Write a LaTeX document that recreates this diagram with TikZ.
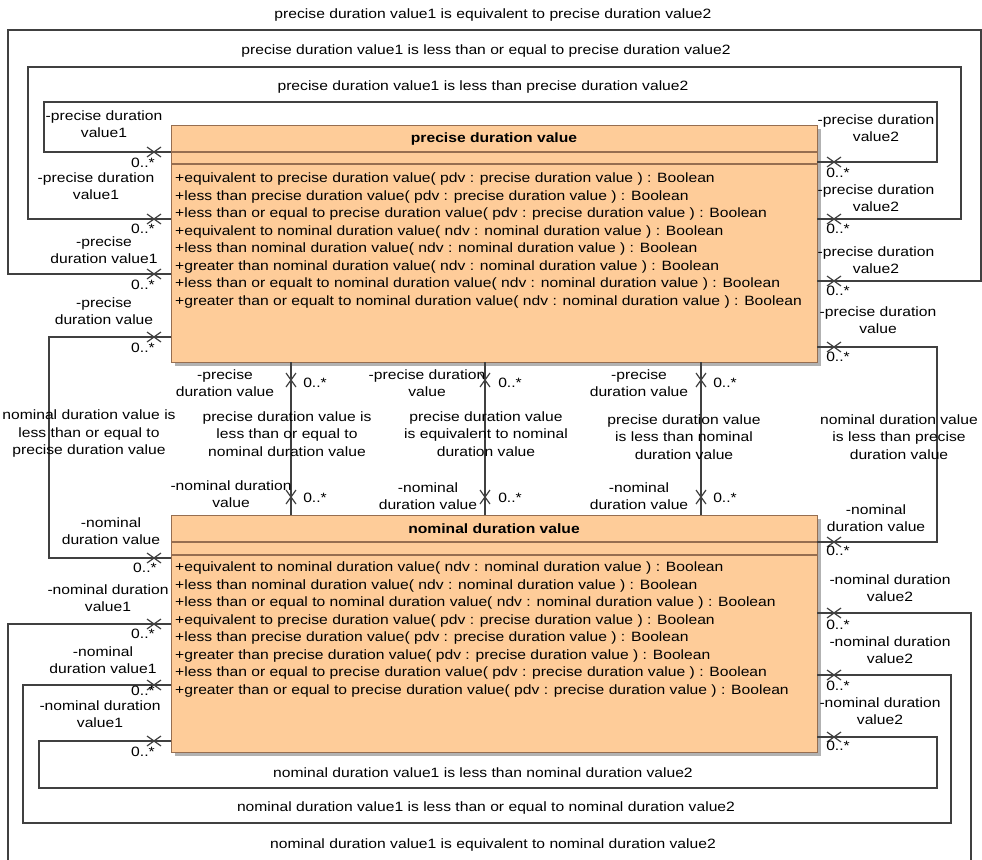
\documentclass[tikz,border=0pt]{standalone}
\usepackage{fontspec}
\setmainfont{Liberation Sans}[FakeStretch=1.16]
\definecolor{classfill}{RGB}{254,204,153}
\definecolor{classline}{RGB}{150,110,80}
\definecolor{wirecol}{RGB}{64,64,64}
\newcommand{\umlfont}{\fontsize{13.5}{17.5}\selectfont}

\begin{document}
\begin{tikzpicture}[x=1pt,y=-1pt]
  \tikzset{
    classbox/.style={draw=classline,fill=classfill,line width=1.2pt,anchor=north west,inner sep=0pt,
      minimum width=646pt,minimum height=237pt},
    shade/.style={fill=black!30},
    wire/.style={draw=wirecol,line width=1.2pt},
    role/.style={font=\umlfont,align=center,inner sep=0pt},
    mult/.style={font=\umlfont,inner sep=0pt},
    ops/.style={font=\umlfont,align=left,anchor=north west,inner sep=0pt},
    xend/.pic={\draw[wirecol,line width=1.2pt] (-7,-5) -- (7,5) (-7,5) -- (7,-5);}
  }
  \clip (0,0) rectangle (982,859);
  % class boxes
  \fill[shade] (175,129) rectangle (821,366);
  \fill[shade] (175,519) rectangle (821,756);
  \node[classbox] (pdv) at (171,125) {};
  \node[classbox] (ndv) at (171,515) {};
  \node[font=\umlfont\bfseries] (pdvname) at (494,139) {precise duration value};
  \node[font=\umlfont\bfseries] (ndvname) at (494,529) {nominal duration value};
  \draw[classline,line width=1.2pt] (pdv.west |- 0,152) -- (pdv.east |- 0,152)
    (pdv.west |- 0,164) -- (pdv.east |- 0,164);
  \draw[classline,line width=1.2pt] (ndv.west |- 0,542) -- (ndv.east |- 0,542)
    (ndv.west |- 0,555) -- (ndv.east |- 0,555);
  \node[ops] (pdvops) at (175,173) {%
    +equivalent to precise duration value( pdv : precise duration value ) : Boolean\\
    +less than precise duration value( pdv : precise duration value ) : Boolean\\
    +less than or equal to precise duration value( pdv : precise duration value ) : Boolean\\
    +equivalent to nominal duration value( ndv : nominal duration value ) : Boolean\\
    +less than nominal duration value( ndv : nominal duration value ) : Boolean\\
    +greater than nominal duration value( ndv : nominal duration value ) : Boolean\\
    +less than or equalt to nominal duration value( ndv : nominal duration value ) : Boolean\\
    +greater than or equalt to nominal duration value( ndv : nominal duration value ) : Boolean};
  \node[ops] (ndvops) at (175,562) {%
    +equivalent to nominal duration value( ndv : nominal duration value ) : Boolean\\
    +less than nominal duration value( ndv : nominal duration value ) : Boolean\\
    +less than or equal to nominal duration value( ndv : nominal duration value ) : Boolean\\
    +equivalent to precise duration value( pdv : precise duration value ) : Boolean\\
    +less than precise duration value( pdv : precise duration value ) : Boolean\\
    +greater than precise duration value( pdv : precise duration value ) : Boolean\\
    +less than or equal to precise duration value( pdv : precise duration value ) : Boolean\\
    +greater than or equal to precise duration value( pdv : precise duration value ) : Boolean};

  % connector ends
  \coordinate (pdvL1) at (171,152);
  \coordinate (pdvL2) at (171,219);
  \coordinate (pdvL3) at (171,274);
  \coordinate (pdvL4) at (171,337);
  \coordinate (pdvR1) at (817,162);
  \coordinate (pdvR2) at (817,219);
  \coordinate (pdvR3) at (817,281);
  \coordinate (pdvR4) at (817,347);
  \coordinate (pdvB1) at (291,362);
  \coordinate (pdvB2) at (485,362);
  \coordinate (pdvB3) at (701,362);
  \coordinate (ndvT1) at (291,515);
  \coordinate (ndvT2) at (485,515);
  \coordinate (ndvT3) at (701,515);
  \coordinate (ndvL1) at (171,558);
  \coordinate (ndvL2) at (171,624);
  \coordinate (ndvL3) at (171,685);
  \coordinate (ndvL4) at (171,741);
  \coordinate (ndvR1) at (817,542);
  \coordinate (ndvR2) at (817,613);
  \coordinate (ndvR3) at (817,675);
  \coordinate (ndvR4) at (817,737);

  % associations
  \draw[wire] (pdvL1) -| (44,102) -| (937,162) -- (pdvR1);
  \draw[wire] (pdvL2) -| (28,67) -| (961,219) -- (pdvR2);
  \draw[wire] (pdvL3) -| (8,30) -| (981,281) -- (pdvR3);
  \draw[wire] (pdvL4) -| (49,558) -- (ndvL1);
  \draw[wire] (pdvR4) -| (937,542) -- (ndvR1);
  \draw[wire] (pdvB1) -- (ndvT1);
  \draw[wire] (pdvB2) -- (ndvT2);
  \draw[wire] (pdvB3) -- (ndvT3);
  \draw[wire] (ndvL4) -| (39,788) -| (937,737) -- (ndvR4);
  \draw[wire] (ndvL3) -| (23,823) -| (951,675) -- (ndvR3);
  \draw[wire] (ndvL2) -| (8,880) -| (971,613) -- (ndvR2);

  % non-navigable ends
  \pic at (154,152) {xend}; \pic at (154,219) {xend}; \pic at (154,274) {xend}; \pic at (154,337) {xend};
  \pic at (834,162) {xend}; \pic at (834,219) {xend}; \pic at (834,281) {xend}; \pic at (834,347) {xend};
  \pic at (154,558) {xend}; \pic at (154,624) {xend}; \pic at (154,685) {xend}; \pic at (154,741) {xend};
  \pic at (834,542) {xend}; \pic at (834,613) {xend}; \pic at (834,675) {xend}; \pic at (834,737) {xend};
  \pic[rotate=90] at (291,380) {xend}; \pic[rotate=90] at (485,380) {xend}; \pic[rotate=90] at (701,380) {xend};
  \pic[rotate=90] at (291,497) {xend}; \pic[rotate=90] at (485,497) {xend}; \pic[rotate=90] at (701,497) {xend};

  % association names
  \node[role] (eqP) at (493,15) {precise duration value1 is equivalent to precise duration value2};
  \node[role] (leP) at (486,51) {precise duration value1 is less than or equal to precise duration value2};
  \node[role] (ltP) at (483,87) {precise duration value1 is less than precise duration value2};
  \node[role] (ltN) at (483,773) {nominal duration value1 is less than nominal duration value2};
  \node[role] (leN) at (486,808) {nominal duration value1 is less than or equal to nominal duration value2};
  \node[role] (eqN) at (493,845) {nominal duration value1 is equivalent to nominal duration value2};
  \node[role] (leNP) at (89,434) {nominal duration value is\\less than or equal to\\precise duration value};
  \node[role] (ltNP) at (899,437) {nominal duration value\\is less than precise\\duration value};
  \node[role] (lePN) at (287,434) {precise duration value is\\less than or equal to\\nominal duration value};
  \node[role] (eqPN) at (486,434) {precise duration value\\is equivalent to nominal\\duration value};
  \node[role] (ltPN) at (684,437) {precise duration value\\is less than nominal\\duration value};

  % role names and multiplicities
  \node[role] (r1) at (104,124) {-precise duration\\value1};
  \node[mult] (m1) at (143,163) {0..*};
  \node[role] (r2) at (96,186) {-precise duration\\value1};
  \node[mult] (m2) at (143,229) {0..*};
  \node[role] (r3) at (104,250) {-precise\\duration value1};
  \node[mult] (m3) at (143,285) {0..*};
  \node[role] (r4) at (104,311) {-precise\\duration value};
  \node[mult] (m4) at (143,348) {0..*};
  \node[role] (r5) at (876,128) {-precise duration\\value2};
  \node[mult] (m5) at (838,173) {0..*};
  \node[role] (r6) at (876,198) {-precise duration\\value2};
  \node[mult] (m6) at (838,229) {0..*};
  \node[role] (r7) at (876,260) {-precise duration\\value2};
  \node[mult] (m7) at (838,291) {0..*};
  \node[role] (r8) at (878,320) {-precise duration\\value};
  \node[mult] (m8) at (838,357) {0..*};
  \node[role] (r9) at (225,383) {-precise\\duration value};
  \node[mult] (m9) at (315,383) {0..*};
  \node[role] (r10) at (427,383) {-precise duration\\value};
  \node[mult] (m10) at (510,383) {0..*};
  \node[role] (r11) at (639,383) {-precise\\duration value};
  \node[mult] (m11) at (725,383) {0..*};
  \node[role] (r12) at (231,494) {-nominal duration\\value};
  \node[mult] (m12) at (315,498) {0..*};
  \node[role] (r13) at (428,496) {-nominal\\duration value};
  \node[mult] (m13) at (510,498) {0..*};
  \node[role] (r14) at (639,496) {-nominal\\duration value};
  \node[mult] (m14) at (725,498) {0..*};
  \node[role] (r15) at (111,531) {-nominal\\duration value};
  \node[mult] (m15) at (145,568) {0..*};
  \node[role] (r16) at (108,598) {-nominal duration\\value1};
  \node[mult] (m16) at (143,634) {0..*};
  \node[role] (r17) at (103,660) {-nominal\\duration value1};
  \node[mult] (m17) at (143,691) {0..*};
  \node[role] (r18) at (100,714) {-nominal duration\\value1};
  \node[mult] (m18) at (143,752) {0..*};
  \node[role] (r19) at (876,518) {-nominal\\duration value};
  \node[mult] (m19) at (838,551) {0..*};
  \node[role] (r20) at (890,588) {-nominal duration\\value2};
  \node[mult] (m20) at (838,625) {0..*};
  \node[role] (r21) at (890,650) {-nominal duration\\value2};
  \node[mult] (m21) at (838,686) {0..*};
  \node[role] (r22) at (880,711) {-nominal duration\\value2};
  \node[mult] (m22) at (838,746) {0..*};
\end{tikzpicture}
\end{document}
